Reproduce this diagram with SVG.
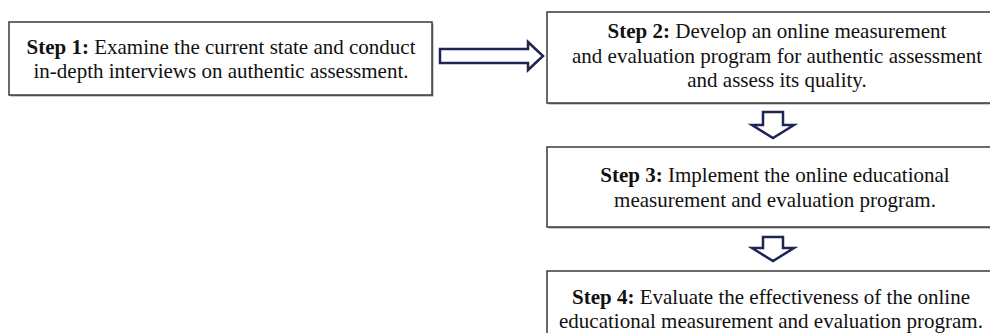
<svg xmlns="http://www.w3.org/2000/svg" width="990" height="333" viewBox="0 0 990 333">
  <style>
    .box { fill: #ffffff; stroke: #3a3a3a; stroke-width: 1.5; }
    .shadow { fill: #9a9a9a; }
    .txt { font-family: "Liberation Serif", "Times New Roman", serif; font-size: 21px; fill: #111111; text-anchor: middle; }
    .b { font-weight: bold; }
    .arrow { fill: #ffffff; stroke: #1e2455; stroke-width: 2.5; stroke-linejoin: miter; }
  </style>
  <rect width="990" height="333" fill="#ffffff"/>
  <g id="step1">
    <rect class="shadow" x="10.5" y="23.5" width="423" height="73"/>
    <rect class="box" x="9" y="22" width="423" height="73"/>
    <text class="txt" x="221" y="54"><tspan class="b">Step 1:</tspan> Examine the current state and conduct</text>
    <text class="txt" x="221" y="78">in-depth interviews on authentic assessment.</text>
  </g>
  <g id="step2">
    <rect class="shadow" x="548.5" y="13.5" width="460" height="91"/>
    <rect class="box" x="547" y="12" width="460" height="91"/>
    <text class="txt" x="777" y="38"><tspan class="b">Step 2:</tspan> Develop an online measurement</text>
    <text class="txt" x="777" y="63">and evaluation program for authentic assessment</text>
    <text class="txt" x="777" y="87">and assess its quality.</text>
  </g>
  <g id="step3">
    <rect class="shadow" x="548.5" y="148.5" width="460" height="80"/>
    <rect class="box" x="547" y="147" width="460" height="80"/>
    <text class="txt" x="775" y="182"><tspan class="b">Step 3:</tspan> Implement the online educational</text>
    <text class="txt" x="775" y="207">measurement and evaluation program.</text>
  </g>
  <g id="step4">
    <rect class="box" x="547" y="271" width="460" height="80"/>
    <text class="txt" x="771" y="304"><tspan class="b">Step 4:</tspan> Evaluate the effectiveness of the online</text>
    <text class="txt" x="771" y="328">educational measurement and evaluation program.</text>
  </g>
  <g id="connectors">
    <polygon class="arrow" points="440,49 528,49 528,42 543,56 528,70 528,63 440,63"/>
    <polygon class="arrow" points="763,112 783,112 783,125 794,125 773,138 752,125 763,125"/>
    <polygon class="arrow" points="763,237 783,237 783,248 794,248 773,261 752,248 763,248"/>
  </g>
</svg>
